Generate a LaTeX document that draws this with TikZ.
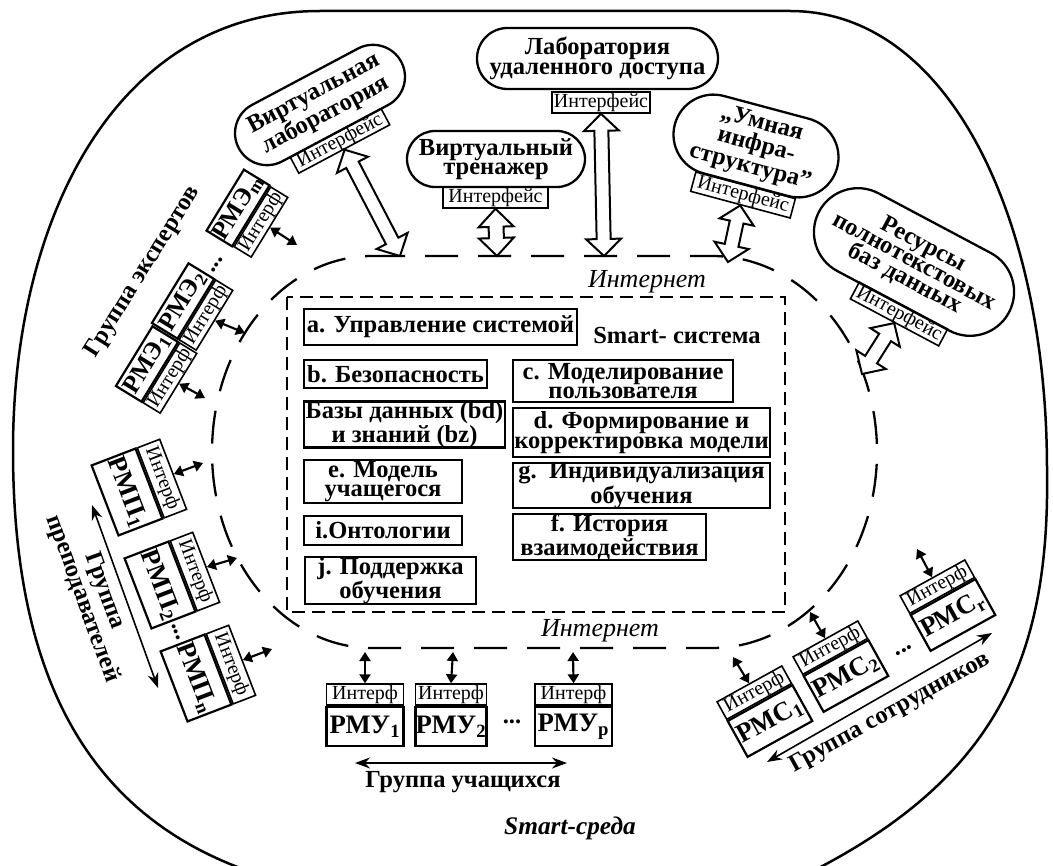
\documentclass[tikz,border=0pt]{standalone}
\usepackage{fontspec}
\setmainfont{Liberation Serif}
\usetikzlibrary{shapes.misc,calc,arrows.meta}
\newdimen\upx \upx=0.75pt
\newcommand\sbs[1]{\textsubscript{#1}}
\newcommand\harrow[5]{%
 \coordinate (ha) at ($(#1)!#3!(#2)$);
 \coordinate (hb) at ($(#2)!#3!(#1)$);
 \draw[line width=2\upx, fill=white, line join=miter] (#1) -- ($(ha)!#4!90:(#2)$) -- ($(ha)!#5!90:(#2)$) -- ($(hb)!#5!-90:(#1)$) -- ($(hb)!#4!-90:(#1)$) -- (#2) -- ($(hb)!#4!90:(#1)$) -- ($(hb)!#5!90:(#1)$) -- ($(ha)!#5!-90:(#2)$) -- ($(ha)!#4!-90:(#2)$) -- cycle;}
\tikzset{
  lw/.style={line width=2.5\upx},
  bft/.style={font=\fontsize{18.4}{14.6}\selectfont\bfseries},
  stad/.style={draw, line width=2.3\upx, rounded rectangle, bft, align=center, inner sep=0pt},
  ifc/.style={draw, line width=1.6\upx, font=\fontsize{15}{15}\selectfont, inner sep=0pt},
  ibox/.style={draw, line width=2.2\upx, bft, align=center, inner sep=0pt},
  rmbox/.style={draw, line width=2.2\upx, font=\fontsize{20}{20}\selectfont\bfseries, inner sep=0pt},
  rmebox/.style={rmbox, font=\fontsize{19}{19}\selectfont\bfseries},
  dbl/.style={{Triangle[length=6.75pt,width=8.25pt]}-{Triangle[length=6.75pt,width=8.25pt]}, line width=1.6pt},
  grp/.style={{Stealth[length=11.25pt,width=8.25pt]}-{Stealth[length=11.25pt,width=8.25pt]}, line width=1.2pt},
  inet/.style={line width=2.3\upx, dash pattern=on 33\upx off 20\upx},
  lbl/.style={bft, inner sep=0pt, align=center},
  itl/.style={font=\fontsize{19.5}{19.5}\selectfont\itshape, inner sep=0pt},
  dots/.style={font=\fontsize{18.4}{10}\selectfont\bfseries, inner sep=0pt},
}
\begin{document}
\begin{tikzpicture}[x=0.75pt,y=-0.75pt]
\useasboundingbox (0,0) rectangle (1053,866);
\clip (0,0) rectangle (1053,866);

% outer Smart-environment boundary
\draw[lw] (320,11) -- (790,11) .. controls (950,11) and (1047,220) .. (1047,470)
  .. controls (1050,660) and (995,780) .. (805,875) -- (260,875)
  .. controls (90,820) and (13,680) .. (13,450)
  .. controls (13,220) and (115,11) .. (320,11) -- cycle;
\node[font=\fontsize{19}{19}\selectfont\bfseries\itshape, inner sep=0pt] (env) at (570,828) {Smart-среда};

% Internet boundary
\draw[inet] (372,256) -- (712,256) arc[start angle=-90, end angle=90, x radius=165, y radius=196]
  -- (372,648) arc[start angle=90, end angle=270, x radius=160, y radius=196] -- cycle;
\node[itl] (net1) at (647,282) {Интернет};
\node[itl] (net2) at (600,631) {Интернет};

% Smart system
\draw[line width=2.2\upx, dash pattern=on 13\upx off 7\upx] (287,297) rectangle (785,612);
\node[lbl] (sys) at (677,335) {Smart- система};
\node[ibox, minimum width=273\upx, minimum height=36\upx] (a) at (440.5,327) {a. Управление системой};
\node[ibox, minimum width=183\upx, minimum height=28\upx] (b) at (395.5,374) {b. Безопасность};
\node[ibox, minimum width=220\upx, minimum height=42\upx] (c) at (623,381) {c. Моделирование\\пользователя};
\node[ibox, minimum width=201\upx, minimum height=45\upx] (bd) at (404.5,424.5) {Базы данных (bd)\\и знаний (bz)};
\node[ibox, minimum width=257\upx, minimum height=49\upx] (d) at (641.5,432.5) {d. Формирование и\\корректировка модели};
\node[ibox, minimum width=158\upx, minimum height=43\upx] (e) at (383,481.5) {e. Модель\\учащегося};
\node[ibox, minimum width=257\upx, minimum height=45\upx] (g) at (641.5,485.5) {g.\ \ Индивидуализация\\обучения};
\node[ibox, minimum width=158\upx, minimum height=29\upx] (i) at (383,530.5) {i.Онтологии};
\node[ibox, minimum width=193\upx, minimum height=46\upx] (f) at (609.5,537) {f. История\\взаимодействия};
\node[ibox, minimum width=171\upx, minimum height=45\upx] (j) at (390.5,580.5) {j. Поддержка\\обучения};

% Remote lab
\node[stad, minimum width=241\upx, minimum height=61\upx] (lab) at (597.5,58.5) {Лаборатория\\удаленного доступа};
\node[ifc, minimum width=98\upx, minimum height=21\upx] (labif) at (601,102.5) {Интерфейс};
\coordinate (labt) at (604,256);
\harrow{labif.south}{labt}{12.75pt}{13.1pt}{5.25pt}

% Virtual trainer
\node[stad, minimum width=178\upx, minimum height=56\upx] (vt) at (496,159) {Виртуальный\\тренажер};
\node[ifc, minimum width=105\upx, minimum height=21\upx] (vtif) at (495.5,197.5) {Интерфейс};
\coordinate (vtt) at (497,256);
\harrow{vtif.south}{vtt}{13.5pt}{13.1pt}{5.6pt}

% Virtual lab
\node[stad, rotate=28, minimum width=184\upx, minimum height=64\upx] (vl) at (320,105) {Виртуальная\\лаборатория};
\node[ifc, rotate=28, minimum width=103\upx, minimum height=18\upx] (vlif) at (340,141) {Интерфейс};
\coordinate (vlt) at (400,256);
\harrow{vlif.south}{vlt}{12.75pt}{13.1pt}{5.25pt}

% Smart infrastructure
\node[stad, rotate=-15, minimum width=168\upx, minimum height=80\upx] (um) at (756,146) {„Умная\\инфра-\\структура”};
\node[ifc, rotate=-15, minimum width=103\upx, minimum height=20\upx] (umif) at (743,195) {Интерфейс};
\coordinate (umt) at (728,262);
\harrow{umif.south}{umt}{12.75pt}{13.1pt}{5.25pt}

% Full-text resources
\node[stad, rotate=-28, minimum width=215\upx, minimum height=88\upx] (rs) at (914,262) {Ресурсы\\полнотекстовых\\баз данных};
\node[ifc, rotate=-28, minimum width=100\upx, minimum height=19\upx] (rsif) at (899,314) {Интерфейс};
\coordinate (rst) at (862,374);
\harrow{rsif.south}{rst}{12.75pt}{13.1pt}{5.25pt}

% Experts
\node[rmebox, rotate=58.5, minimum width=70\upx, minimum height=30\upx] (e1) at (147,364) {РМЭ\sbs{1}};
\node[ifc, rotate=58.5, minimum width=70\upx, minimum height=20\upx, anchor=north] (e1i) at (e1.south) {Интерф};
\node[rmebox, rotate=58.5, minimum width=70\upx, minimum height=30\upx] (e2) at (183,301) {РМЭ\sbs{2}};
\node[ifc, rotate=58.5, minimum width=70\upx, minimum height=20\upx, anchor=north] (e2i) at (e2.south) {Интерф};
\node[rmebox, rotate=58.5, minimum width=70\upx, minimum height=30\upx] (em) at (238,208) {РМЭ\sbs{m}};
\node[ifc, rotate=58.5, minimum width=70\upx, minimum height=20\upx, anchor=north] (emi) at (em.south) {Интерф};
\node[dots, rotate=58.5] (edots) at (217,265) {...};
\coordinate (e1a) at (205,398);
\coordinate (e2a) at (245,333);
\coordinate (ema) at (297,245);
\draw[dbl] (e1i.south) -- (e1a);
\draw[dbl] (e2i.south) -- (e2a);
\draw[dbl] (emi.south) -- (ema);
\node[lbl, rotate=58] (eg) at (143,272) {Группа экспертов};

% Teachers
\node[rmbox, rotate=-69, minimum width=75\upx, minimum height=47\upx] (p1) at (127,492) {РМП\sbs{1}};
\node[ifc, rotate=-69, minimum width=75\upx, minimum height=24\upx, anchor=south] (p1i) at (p1.north) {Интерф};
\node[rmbox, rotate=-69, minimum width=75\upx, minimum height=47\upx] (p2) at (160,585) {РМП\sbs{2}};
\node[ifc, rotate=-69, minimum width=75\upx, minimum height=24\upx, anchor=south] (p2i) at (p2.north) {Интерф};
\node[rmbox, rotate=-69, minimum width=75\upx, minimum height=47\upx] (pn) at (196,678) {РМП\sbs{n}};
\node[ifc, rotate=-69, minimum width=75\upx, minimum height=24\upx, anchor=south] (pni) at (pn.north) {Интерф};
\node[dots, rotate=-69] (pdots) at (176,632) {...};
\coordinate (p1a) at (203,463);
\coordinate (p2a) at (237,558);
\coordinate (pna) at (272,649);
\draw[dbl] (p1i.north) -- (p1a);
\draw[dbl] (p2i.north) -- (p2a);
\draw[dbl] (pni.north) -- (pna);
\coordinate (pg1) at (92,505);
\coordinate (pg2) at (158,688);
\draw[grp] (pg1) -- (pg2);
\node[lbl, rotate=-70] (pg) at (93,595) {Группа\\преподавателей};

% Students
\node[rmbox, minimum width=77\upx, minimum height=39\upx] (u1) at (365,726.5) {РМУ\sbs{1}};
\node[ifc, minimum width=77\upx, minimum height=21\upx, anchor=south] (u1i) at (u1.north) {Интерф};
\node[rmbox, minimum width=71\upx, minimum height=39\upx] (u2) at (451,726.5) {РМУ\sbs{2}};
\node[ifc, minimum width=71\upx, minimum height=21\upx, anchor=south] (u2i) at (u2.north) {Интерф};
\node[rmbox, minimum width=77\upx, minimum height=39\upx] (up) at (573.5,726.5) {РМУ\sbs{p}};
\node[ifc, minimum width=77\upx, minimum height=21\upx, anchor=south] (upi) at (up.north) {Интерф};
\node[dots] (udots) at (512,722) {...};
\coordinate (u1a) at (365,652);
\coordinate (u2a) at (453,652);
\coordinate (upa) at (573,652);
\draw[dbl] (u1a) -- (u1i.north);
\draw[dbl] (u2a) -- (u2i.north);
\draw[dbl] (upa) -- (upi.north);
\coordinate (ug1) at (355,763);
\coordinate (ug2) at (567,763);
\draw[grp] (ug1) -- (ug2);
\node[lbl] (ug) at (463,782) {Группа учащихся};

% Staff
\node[rmbox, rotate=29, minimum width=74\upx, minimum height=41\upx] (s1) at (770,721) {РМС\sbs{1}};
\node[ifc, rotate=29, minimum width=74\upx, minimum height=20\upx, anchor=south] (s1i) at (s1.north) {Интерф};
\node[rmbox, rotate=29, minimum width=74\upx, minimum height=41\upx] (s2) at (846,676) {РМС\sbs{2}};
\node[ifc, rotate=29, minimum width=74\upx, minimum height=20\upx, anchor=south] (s2i) at (s2.north) {Интерф};
\node[rmbox, rotate=29, minimum width=74\upx, minimum height=41\upx] (sr) at (953,615) {РМС\sbs{r}};
\node[ifc, rotate=29, minimum width=74\upx, minimum height=20\upx, anchor=south] (sri) at (sr.north) {Интерф};
\node[dots, rotate=29] (sdots) at (904,651) {...};
\coordinate (s1a) at (733,657);
\coordinate (s2a) at (810,612);
\coordinate (sra) at (917,549);
\draw[dbl] (s1a) -- (s1i.north);
\draw[dbl] (s2a) -- (s2i.north);
\draw[dbl] (sra) -- (sri.north);
\coordinate (sg1) at (767,762);
\coordinate (sg2) at (992,633);
\draw[grp] (sg1) -- (sg2);
\node[lbl, rotate=29] (sg) at (890,713) {Группа сотрудников};
\end{tikzpicture}
\end{document}
